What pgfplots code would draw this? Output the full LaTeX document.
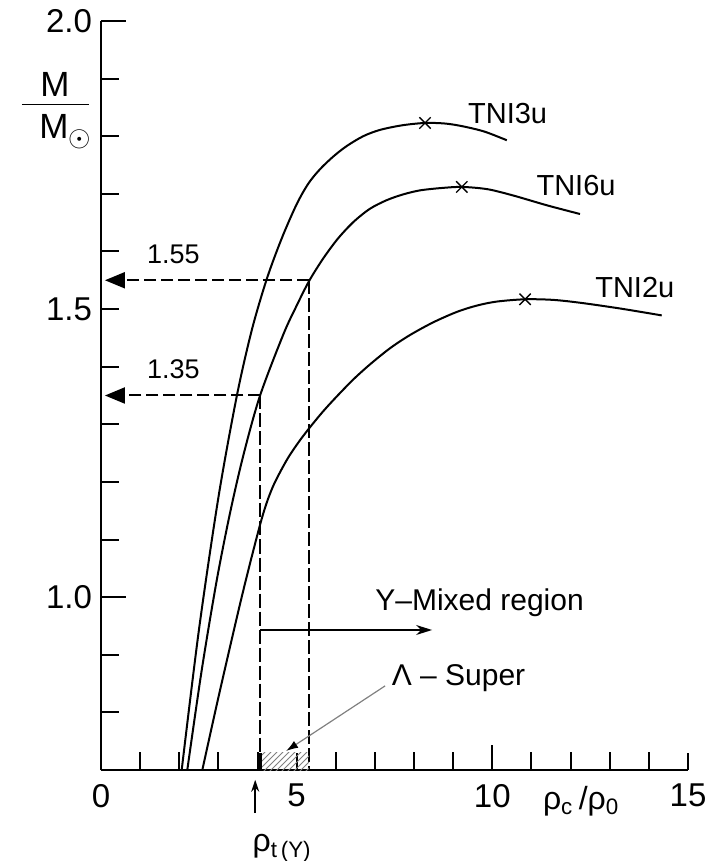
\documentclass[border=0pt]{standalone}
\usepackage{fontspec}
\setmainfont{Liberation Sans}
\usepackage{pgfplots}
\pgfplotsset{compat=1.18}
\usetikzlibrary{arrows.meta,patterns}

\begin{document}
\begin{tikzpicture}
\begin{axis}[name=ax, scale only axis, width=293.5pt, height=374.5pt,
 xmin=0,xmax=15,ymin=0.7,ymax=2.0,
 axis x line=bottom, axis y line=left, axis line style={-, line width=1pt},
 tick align=inside, tick style={black, line width=1pt},
 xtick={10}, xticklabels={10}, extra x ticks={0,5,15}, extra x tick labels={0,5,15},
 extra x tick style={major tick length=8.5pt},
 minor xtick={1,2,3,4,6,7,8,9,11,12,13,14},
 ytick={1.0,2.0}, yticklabels={1.0,2.0}, extra y ticks={1.5}, extra y tick labels={1.5},
 extra y tick style={major tick length=9pt},
 minor ytick={0.8,0.9,1.1,1.2,1.3,1.4,1.6,1.7,1.8,1.9},
 major tick length=12.5pt, minor tick length=9pt,
 ticklabel style={font=\fontsize{16.5}{18}\selectfont},
 xticklabel style={yshift=-3.5pt},
 yticklabel style={xshift=-1pt},
 clip=false,
]
% TNI3u
\addplot[black, line width=1pt, smooth] coordinates {
(2.062,0.700)(2.5,0.942)(3.0,1.173)(3.47,1.349)(3.855,1.464)(4.24,1.553)(4.62,1.623)(5.0,1.682)(5.3,1.718)(5.6,1.743)(5.94,1.765)(6.28,1.783)(6.7,1.800)(7.13,1.811)(7.7,1.819)(8.28,1.823)(8.8,1.822)(9.26,1.817)(9.8,1.808)(10.37,1.793)};
% TNI6u
\addplot[black, line width=1pt, smooth] coordinates {
(2.205,0.700)(2.573,0.873)(2.957,1.029)(3.297,1.146)(3.637,1.246)(4.06,1.349)(4.659,1.456)(5.0,1.506)(5.32,1.549)(5.68,1.588)(6.05,1.622)(6.448,1.651)(6.87,1.674)(7.30,1.689)(7.72,1.699)(8.15,1.706)(8.68,1.710)(9.22,1.712)(9.88,1.708)(10.54,1.697)(11.4,1.680)(12.24,1.665)};
% TNI2u
\addplot[black, line width=1pt, smooth] coordinates {
(2.589,0.700)(3.0,0.826)(3.5,0.973)(3.78,1.051)(4.07,1.127)(4.235,1.164)(4.4,1.193)(4.6,1.220)(4.8,1.244)(5.06,1.270)(5.33,1.294)(5.67,1.322)(6.02,1.348)(6.45,1.378)(6.874,1.404)(7.385,1.432)(7.897,1.455)(8.49,1.477)(9.09,1.495)(9.6,1.506)(10.112,1.513)(10.836,1.517)(11.54,1.516)(12.241,1.511)(13.264,1.501)(14.329,1.489)};
% maxima
\addplot[only marks, mark=x, mark size=4pt, line width=0.7pt, black] coordinates {(8.28,1.823)(9.22,1.712)(10.836,1.517)};

\node[anchor=west, font=\fontsize{14.5}{16}\selectfont] at (9.2,1.84) {TNI3u};
\node[anchor=west, font=\fontsize{14.5}{16}\selectfont] at (10.95,1.714) {TNI6u};
\node[anchor=west, font=\fontsize{14.5}{16}\selectfont] at (12.45,1.538) {TNI2u};

% dashed construction lines
\draw[line width=1pt, dash pattern=on 6pt off 2.5pt, -{Triangle[length=10pt,width=8pt]}] (5.32,1.55) -- (0.10,1.55);
\draw[line width=1pt, dash pattern=on 6pt off 2.5pt, -{Triangle[length=10pt,width=8pt]}] (4.07,1.35) -- (0.10,1.35);
\draw[line width=1pt, dash pattern=on 7pt off 2pt] (4.07,1.35) -- (4.07,0.70);
\draw[line width=1pt, dash pattern=on 7pt off 2pt] (5.32,1.55) -- (5.32,0.70);
\node[anchor=west, font=\fontsize{13.5}{15}\selectfont] at (1.0,1.595) {1.55};
\node[anchor=west, font=\fontsize{13.5}{15}\selectfont] at (1.0,1.395) {1.35};

% hatched region
\fill[pattern=north east lines, pattern color=gray] (4.07,0.70) rectangle (5.32,0.73);
\draw[line width=2pt] (4.07,0.70) -- (4.07,0.73);

% Y mixed region
\draw[line width=0.8pt, -{Stealth[length=8pt,width=5pt]}] (4.07,0.943) -- (8.46,0.943);
\node[anchor=west, inner sep=0pt, font=\fontsize{15}{17}\selectfont] at (7.0,0.99) {Y--Mixed region};
\node[anchor=west, inner sep=0pt, font=\fontsize{15}{17}\selectfont] at (7.42,0.86) {Λ -- Super};
\draw[gray, line width=0.6pt, -{Latex[length=6pt,width=4pt,black]}] (7.26,0.846) -- (4.73,0.733);

% rho_t arrow
\draw[line width=0.8pt, -{Stealth[length=6pt,width=4pt]}] (3.94,0.625) -- (3.94,0.683);
\node[anchor=base, font=\fontsize{16}{18}\selectfont] at (4.63,0.558) {ρ\textsubscript{t\,(Y)}};

% x label
\node[anchor=base, font=\fontsize{16}{18}\selectfont] at (12.27,0.631) {ρ\textsubscript{c}\,/ρ\textsubscript{0}};

% y label
\node[font=\fontsize{17.5}{19}\selectfont] at (-1.176,1.889) {M};
\draw[line width=0.9pt] (-2.02,1.855) -- (-0.31,1.855);
\node[font=\fontsize{17.5}{19}\selectfont] at (-1.20,1.817) {M};
\node[font=\fontsize{15}{15}\selectfont, inner sep=0pt] at (-0.537,1.794) {$\odot$};
\end{axis}
\pgfresetboundingbox
\path ([shift={(-50.5pt,-45.5pt)}]ax.south west) rectangle ([shift={(15.5pt,10.5pt)}]ax.north east);
\end{tikzpicture}
\end{document}
